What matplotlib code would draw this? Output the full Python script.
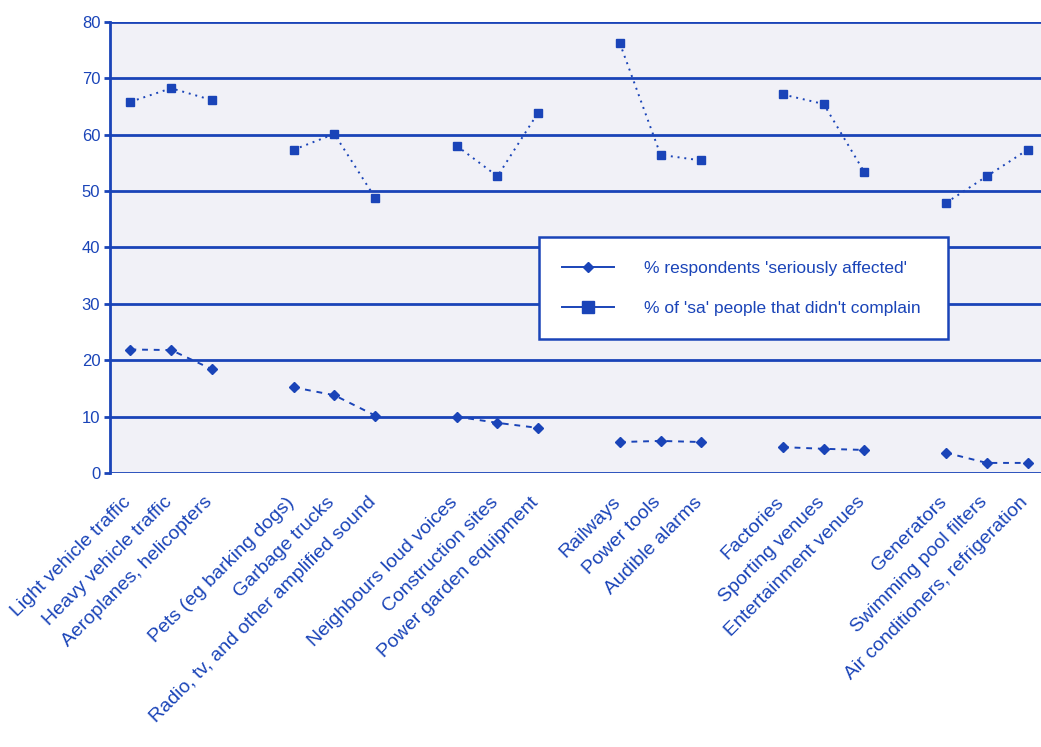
import matplotlib
matplotlib.use("Agg")
import matplotlib.pyplot as plt
import matplotlib.transforms as mtransforms
import numpy as np

# Noise sources, in groups of three with an empty slot between groups
sources = [
    "Light vehicle traffic", "Heavy vehicle traffic", "Aeroplanes, helicopters", "",
    "Pets (eg barking dogs)", "Garbage trucks", "Radio, tv, and other amplified sound", "",
    "Neighbours loud voices", "Construction sites", "Power garden equipment", "",
    "Railways", "Power tools", "Audible alarms", "",
    "Factories", "Sporting venues", "Entertainment venues", "",
    "Generators", "Swimming pool filters", "Air conditioners, refrigeration",
]

# % respondents 'seriously affected'
pct_affected = [
    21.9, 21.8, 18.4, None,
    15.2, 13.8, 10.2, None,
    10.0, 8.9, 8.0, None,
    5.5, 5.7, 5.5, None,
    4.6, 4.3, 4.1, None,
    3.6, 1.8, 1.8,
]

# % of 'sa' people that didn't complain
pct_no_complaint = [
    65.8, 68.2, 66.1, None,
    57.3, 60.1, 48.8, None,
    58.0, 52.6, 63.9, None,
    76.2, 56.4, 55.4, None,
    67.1, 65.4, 53.3, None,
    47.9, 52.6, 57.3,
]

label_affected = "% respondents 'seriously affected'"
label_complain = "% of 'sa' people that didn't complain"

BLUE = "#1a44b8"
plt.rcParams["font.family"] = ["Liberation Sans", "DejaVu Sans"]

fig = plt.figure(figsize=(10.41, 7.47), dpi=100)
ax = fig.add_axes([0.1057, 0.3667, 0.901, 0.6043])
ax.set_facecolor("#f1f1f7")

x = np.arange(len(sources))
y1 = np.array([np.nan if v is None else v for v in pct_affected], dtype=float)
y2 = np.array([np.nan if v is None else v for v in pct_no_complaint], dtype=float)

ax.plot(x, y1, color=BLUE, lw=1.4, ls=(0, (3, 3)), marker="D", ms=5,
        mfc=BLUE, mec=BLUE, zorder=3)
ax.plot(x, y2, color=BLUE, lw=1.4, ls=(0, (1, 2.5)), marker="s", ms=6,
        mfc=BLUE, mec=BLUE, zorder=3)

# legend handles drawn solid
h1, = ax.plot([], [], color=BLUE, lw=1.4, marker="D", ms=5, label=label_affected)
h2, = ax.plot([], [], color=BLUE, lw=1.4, marker="s", ms=9, label=label_complain)

ax.set_xlim(-0.5, len(sources) - 0.5)
ax.set_ylim(0, 80)
ax.set_yticks(np.arange(0, 81, 10))
ax.yaxis.grid(True, color=BLUE, lw=2)
ax.set_axisbelow(True)

for side in ["top", "right", "bottom"]:
    ax.spines[side].set_visible(False)
ax.spines["left"].set_color(BLUE)
ax.spines["left"].set_linewidth(2)

ax.tick_params(axis="y", colors=BLUE, labelsize=12, length=4, width=2, pad=3)
ax.tick_params(axis="x", colors=BLUE, labelsize=14, length=0, pad=12)
ax.set_xticks(x)
ax.set_xticklabels(sources, rotation=45, ha="right", rotation_mode="anchor")
shift = mtransforms.ScaledTranslation(-8 / 100, -4 / 100, fig.dpi_scale_trans)
for lbl in ax.get_xticklabels():
    lbl.set_transform(lbl.get_transform() + shift)

leg = ax.legend(handles=[h1, h2], loc="upper left", mode="expand",
                bbox_to_anchor=(0.457, 0.295, 0.436, 0.228), borderaxespad=0,
                fontsize=12.5, frameon=True, fancybox=False, handlelength=3.0,
                handletextpad=1.7, borderpad=1.35, labelspacing=1.45,
                labelcolor=BLUE)
leg.get_frame().set_edgecolor(BLUE)
leg.get_frame().set_linewidth(1.8)
leg.get_frame().set_facecolor("white")
leg.get_frame().set_alpha(1)

fig.savefig("out.png", dpi=100)
